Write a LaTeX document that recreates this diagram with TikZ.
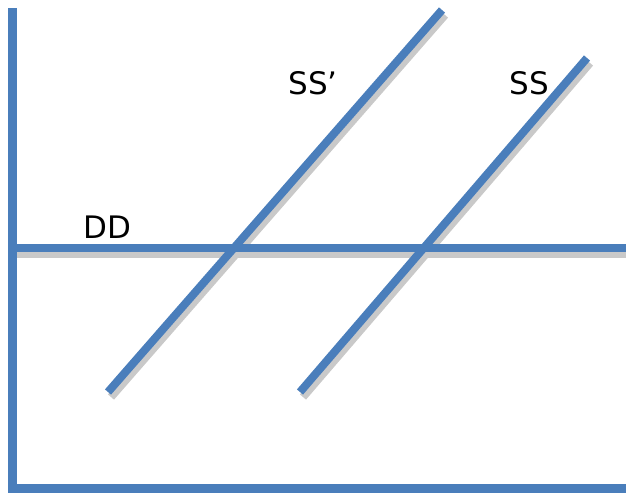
\documentclass[tikz,border=0pt]{standalone}
\usepackage{fontspec}
\setmainfont{DejaVu Sans}
\definecolor{lineblue}{HTML}{4A7EBB}
\definecolor{shadowgray}{HTML}{C9C9C9}
\begin{document}
\begin{tikzpicture}[x=1pt,y=-1pt,
  curve/.style={line width=8pt,draw=lineblue},
  axisline/.style={line width=9pt,draw=lineblue},
  shade/.style={line width=8pt,draw=shadowgray},
  lbl/.style={font=\fontsize{31}{36}\selectfont,inner sep=0pt,text=black}]
\useasboundingbox (0,0) rectangle (626,493);
% coordinates
\coordinate (ytop) at (12,8);
\coordinate (ybot) at (12,493);
\coordinate (xl) at (8,488.5);
\coordinate (xr) at (626,488.5);
\coordinate (ddl) at (12,248);
\coordinate (ddr) at (626,248);
\coordinate (sspa) at (108,392);
\coordinate (sspb) at (442,10);
\coordinate (ssa) at (300,392);
\coordinate (ssb) at (587,58);
% shadows
\draw[shade] ([shift={(0,6)}]ddl) -- ([shift={(0,6)}]ddr);
\draw[shade] ([shift={(3,5)}]sspa) -- ([shift={(3,5)}]sspb);
\draw[shade] ([shift={(3,5)}]ssa) -- ([shift={(3,5)}]ssb);
% lines
\draw[curve] (ddl) -- (ddr);
\draw[curve] (sspa) -- (sspb);
\draw[curve] (ssa) -- (ssb);
\draw[axisline] (ytop) -- (ybot);
\draw[axisline] (xl) -- (xr);
% labels
\node[lbl] (dd) at (107,227) {DD};
\node[lbl] (sslbl) at (313,83) {SS’};
\node[lbl] (sslabel) at (529,83) {SS};
\end{tikzpicture}
\end{document}
